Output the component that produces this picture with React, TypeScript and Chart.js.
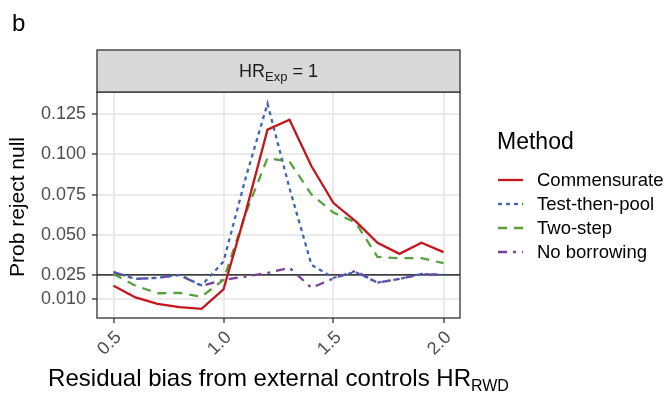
import React, { useEffect, useRef } from 'react';
import { Chart, registerables } from 'chart.js';
Chart.register(...registerables);

const xValues = [0.5, 0.6, 0.7, 0.8, 0.9, 1.0, 1.1, 1.2, 1.3, 1.4, 1.5, 1.6, 1.7, 1.8, 1.9, 2.0];
const commensurate = [0.0183, 0.0110, 0.0070, 0.0050, 0.0039, 0.0160, 0.0636, 0.1154, 0.1215, 0.0926, 0.0697, 0.0585, 0.0450, 0.0381, 0.0450, 0.0392];
const testThenPool = [0.0268, 0.0225, 0.0232, 0.0250, 0.0185, 0.0333, 0.0850, 0.1316, 0.0790, 0.0312, 0.0232, 0.0268, 0.0202, 0.0225, 0.0256, 0.0250];
const twoStep = [0.0255, 0.0183, 0.0136, 0.0138, 0.0115, 0.0219, 0.0630, 0.0977, 0.0955, 0.0750, 0.0638, 0.0577, 0.0362, 0.0354, 0.0354, 0.0323];
const noBorrowing = [0.0268, 0.0225, 0.0232, 0.0250, 0.0182, 0.0219, 0.0240, 0.0262, 0.0294, 0.0170, 0.0228, 0.0275, 0.0202, 0.0225, 0.0256, 0.0250];

const yTickValues = [0.01, 0.025, 0.05, 0.075, 0.1, 0.125];
const xTickValues = [0.5, 1.0, 1.5, 2.0];
const referenceLine = 0.025;

const seriesNames = ['Commensurate', 'Test-then-pool', 'Two-step', 'No borrowing'];
const seriesColors = ['#C4161C', '#3F66B5', '#57A23C', '#7A3F9C'];
const seriesDashes: number[][] = [[], [4, 4], [9, 7], [9, 6, 3, 6]];
const seriesValues = [commensurate, testThenPool, twoStep, noBorrowing];

const FONT = '"Liberation Sans", Arial, Helvetica, sans-serif';

const decorPlugin = {
  id: 'decor',
  beforeDatasetsDraw(chart: any) {
    const { ctx, chartArea } = chart;
    const y = chart.scales.y.getPixelForValue(referenceLine);
    ctx.save();
    ctx.strokeStyle = '#000000';
    ctx.lineWidth = 1.1;
    ctx.beginPath();
    ctx.moveTo(chartArea.left, y);
    ctx.lineTo(chartArea.right, y);
    ctx.stroke();
    ctx.restore();
  },
  afterDraw(chart: any) {
    const { ctx, chartArea } = chart;
    const { left, right, top, bottom } = chartArea;
    const w = right - left;
    const cx = (left + right) / 2;
    ctx.save();
    // panel border
    ctx.strokeStyle = '#333333';
    ctx.lineWidth = 1.3;
    ctx.strokeRect(left, top, w, bottom - top);
    // strip
    const stripTop = 50;
    ctx.fillStyle = '#D9D9D9';
    ctx.fillRect(left, stripTop, w, top - stripTop);
    ctx.strokeRect(left, stripTop, w, top - stripTop);
    // strip text HR_Exp = 1
    ctx.fillStyle = '#1a1a1a';
    ctx.textBaseline = 'alphabetic';
    ctx.textAlign = 'left';
    const f1 = `18px ${FONT}`;
    const f2 = `13px ${FONT}`;
    ctx.font = f1;
    const wHR = ctx.measureText('HR').width;
    const wEq = ctx.measureText(' = 1').width;
    ctx.font = f2;
    const wExp = ctx.measureText('Exp').width;
    let sx = cx - (wHR + wExp + wEq) / 2;
    const sb = 77;
    ctx.font = f1;
    ctx.fillText('HR', sx, sb);
    sx += wHR;
    ctx.font = f2;
    ctx.fillText('Exp', sx, sb + 4);
    sx += wExp;
    ctx.font = f1;
    ctx.fillText(' = 1', sx, sb);

    // panel label b
    ctx.fillStyle = '#000000';
    ctx.font = `24px ${FONT}`;
    ctx.fillText('b', 12, 31);

    // x title
    const t1 = `24px ${FONT}`;
    const t2 = `16px ${FONT}`;
    ctx.font = t1;
    const mainT = 'Residual bias from external controls HR';
    const wMain = ctx.measureText(mainT).width;
    ctx.font = t2;
    const wSub = ctx.measureText('RWD').width;
    let tx = cx - (wMain + wSub) / 2;
    const tb = 386;
    ctx.font = t1;
    ctx.fillText(mainT, tx, tb);
    tx += wMain;
    ctx.font = t2;
    ctx.fillText('RWD', tx, tb + 5);

    // y title
    ctx.save();
    ctx.translate(24, (top + bottom) / 2 + 2);
    ctx.rotate(-Math.PI / 2);
    ctx.font = `21px ${FONT}`;
    ctx.textAlign = 'center';
    ctx.fillText('Prob reject null', 0, 0);
    ctx.restore();

    // legend
    ctx.textAlign = 'left';
    ctx.textBaseline = 'middle';
    ctx.font = `23px ${FONT}`;
    ctx.fillText('Method', 497, 143);
    ctx.font = `18.5px ${FONT}`;
    for (let i = 0; i < seriesNames.length; i++) {
      const ly = 180 + i * 24;
      ctx.strokeStyle = seriesColors[i];
      ctx.lineWidth = 2.3;
      ctx.setLineDash(seriesDashes[i]);
      ctx.beginPath();
      ctx.moveTo(498, ly);
      ctx.lineTo(523, ly);
      ctx.stroke();
      ctx.setLineDash([]);
      ctx.fillStyle = '#000000';
      ctx.fillText(seriesNames[i], 537, ly + 1);
    }
    ctx.restore();
  },
};

export default function App() {
  const ref = useRef<HTMLCanvasElement | null>(null);
  useEffect(() => {
    document.body.style.margin = '0';
    const canvas = ref.current;
    if (!canvas) return;
    const datasets = seriesNames.map((name, i) => ({
      label: name,
      data: xValues.map((x, j) => ({ x, y: seriesValues[i][j] })),
      borderColor: seriesColors[i],
      backgroundColor: seriesColors[i],
      borderWidth: 2.3,
      borderDash: seriesDashes[i],
      pointRadius: 0,
      tension: 0,
      fill: false,
    }));
    const chart = new Chart(canvas, {
      type: 'line',
      data: { datasets },
      plugins: [decorPlugin],
      options: {
        responsive: false,
        animation: false,
        devicePixelRatio: 1,
        layout: { padding: { left: 0, right: 208, top: 92, bottom: 0 } },
        plugins: { legend: { display: false }, tooltip: { enabled: false } },
        scales: {
          x: {
            type: 'linear',
            min: 0.425,
            max: 2.075,
            afterFit: (s: any) => { s.height = 77; },
            afterBuildTicks: (s: any) => { s.ticks = xTickValues.map((v) => ({ value: v })); },
            border: { display: false },
            grid: { color: '#EBEBEB', lineWidth: 2, tickColor: '#333333', tickLength: 5, tickWidth: 1.3 },
            ticks: {
              autoSkip: false,
              maxRotation: 45,
              minRotation: 45,
              padding: 4,
              labelOffset: 5,
              color: '#4D4D4D',
              font: { size: 18, family: FONT },
              callback: (v: any) => Number(v).toFixed(1),
            },
          },
          y: {
            type: 'linear',
            min: -0.0018,
            max: 0.1388,
            afterFit: (s: any) => { s.width = 97; },
            afterBuildTicks: (s: any) => { s.ticks = yTickValues.map((v) => ({ value: v })); },
            border: { display: false },
            grid: { color: '#EBEBEB', lineWidth: 2, tickColor: '#333333', tickLength: 5, tickWidth: 1.3 },
            ticks: {
              autoSkip: false,
              padding: 6,
              color: '#4D4D4D',
              font: { size: 18, family: FONT },
              callback: (v: any) => Number(v).toFixed(3),
            },
          },
        },
      },
    } as any);
    return () => chart.destroy();
  }, []);
  return (
    <div style={{ width: 668, height: 395, background: '#ffffff' }}>
      <canvas ref={ref} width={668} height={395} style={{ display: 'block' }} />
    </div>
  );
}
